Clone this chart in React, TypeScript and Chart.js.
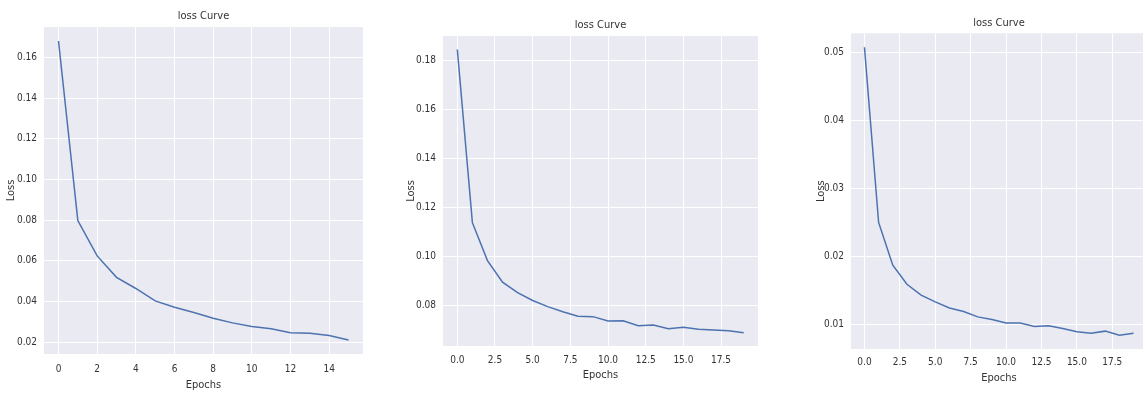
import React, { useEffect, useRef } from "react";
import { Chart, registerables } from "chart.js";

Chart.register(...registerables);

// ---------- data ----------
const epochs1 = [0, 1, 2, 3, 4, 5, 6, 7, 8, 9, 10, 11, 12, 13, 14, 15];
const loss1 = [0.168, 0.0798, 0.0624, 0.0519, 0.0464, 0.0403, 0.0372, 0.0346, 0.0318, 0.0295, 0.0277, 0.0266, 0.0247, 0.0244, 0.0233, 0.0211];
const xTicks1 = [0, 2, 4, 6, 8, 10, 12, 14];
const yTicks1 = [0.02, 0.04, 0.06, 0.08, 0.1, 0.12, 0.14, 0.16];

const epochs2 = [0, 1, 2, 3, 4, 5, 6, 7, 8, 9, 10, 11, 12, 13, 14, 15, 16, 17, 18, 19];
const loss2 = [0.1846, 0.1138, 0.0983, 0.0895, 0.0852, 0.082, 0.0795, 0.0774, 0.0756, 0.0754, 0.0736, 0.0737, 0.0717, 0.072, 0.0705, 0.0711, 0.0702, 0.0699, 0.0696, 0.0688];
const xTicks2 = [0, 2.5, 5, 7.5, 10, 12.5, 15, 17.5];
const yTicks2 = [0.08, 0.1, 0.12, 0.14, 0.16, 0.18];

const epochs3 = [0, 1, 2, 3, 4, 5, 6, 7, 8, 9, 10, 11, 12, 13, 14, 15, 16, 17, 18, 19];
const loss3 = [0.0508, 0.025, 0.0187, 0.0159, 0.0143, 0.0133, 0.0124, 0.0119, 0.0111, 0.0107, 0.0102, 0.0102, 0.0097, 0.0098, 0.0094, 0.0089, 0.0087, 0.009, 0.0084, 0.0087];
const xTicks3 = [0, 2.5, 5, 7.5, 10, 12.5, 15, 17.5];
const yTicks3 = [0.01, 0.02, 0.03, 0.04, 0.05];

const titleText = "loss Curve";
const xTitle = "Epochs";
const yTitle = "Loss";

// ---------- styling ----------
const FONT = "'Liberation Sans Narrow', 'DejaVu Sans Condensed', 'Liberation Sans', sans-serif";
const TEXT = "#333333";
const LINE = "#4C72B0";
const PLOT_BG = "#EAEAF2";

const bgPlugin = {
  id: "plotBg",
  beforeDraw(chart: any) {
    const { ctx, chartArea } = chart;
    if (!chartArea) return;
    ctx.save();
    ctx.fillStyle = PLOT_BG;
    ctx.fillRect(chartArea.left, chartArea.top, chartArea.right - chartArea.left, chartArea.bottom - chartArea.top);
    ctx.restore();
  },
};

type PanelProps = {
  left: number;
  width: number;
  epochs: number[];
  loss: number[];
  xTicks: number[];
  yTicks: number[];
  xMin: number;
  xMax: number;
  yMin: number;
  yMax: number;
  xDecimals: number;
  yAxisWidth: number;
  xAxisHeight: number;
  yTitlePad: number;
  xTitlePadBottom: number;
  xTickPad: number;
  titlePadTop: number;
  titlePadBottom: number;
};

function LossPanel(p: PanelProps) {
  const ref = useRef<HTMLCanvasElement | null>(null);
  useEffect(() => {
    if (!ref.current) return;
    const chart = new Chart(ref.current, {
      type: "line",
      data: {
        datasets: [
          {
            data: p.loss.map((v, i) => ({ x: p.epochs[i], y: v })),
            borderColor: LINE,
            borderWidth: 1.5,
            pointRadius: 0,
            fill: false,
            tension: 0,
          },
        ],
      },
      options: {
        responsive: false,
        animation: false,
        layout: { padding: 0, autoPadding: false },
        plugins: {
          legend: { display: false },
          tooltip: { enabled: false },
          title: {
            display: true,
            text: titleText,
            fullSize: false,
            color: TEXT,
            font: { family: FONT, size: 11, weight: "normal", lineHeight: 1.2 },
            padding: { top: p.titlePadTop, bottom: p.titlePadBottom },
          },
        },
        scales: {
          x: {
            type: "linear",
            min: p.xMin,
            max: p.xMax,
            afterBuildTicks: (scale: any) => {
              scale.ticks = p.xTicks.map((v) => ({ value: v }));
            },
            afterFit: (scale: any) => {
              scale.height = p.xAxisHeight;
            },
            ticks: {
              color: TEXT,
              font: { family: FONT, size: 10, lineHeight: 1.2 },
              padding: p.xTickPad,
              maxRotation: 0,
              autoSkip: false,
              callback: (v: any) => Number(v).toFixed(p.xDecimals),
            },
            grid: { color: "#ffffff", lineWidth: 1, drawTicks: false },
            border: { display: false },
            title: {
              display: true,
              text: xTitle,
              color: TEXT,
              font: { family: FONT, size: 11, lineHeight: 1.2 },
              padding: { top: 0, bottom: p.xTitlePadBottom },
            },
          },
          y: {
            type: "linear",
            min: p.yMin,
            max: p.yMax,
            afterBuildTicks: (scale: any) => {
              scale.ticks = p.yTicks.map((v) => ({ value: v }));
            },
            afterFit: (scale: any) => {
              scale.width = p.yAxisWidth;
            },
            ticks: {
              color: TEXT,
              font: { family: FONT, size: 10, lineHeight: 1.2 },
              padding: 7,
              autoSkip: false,
              callback: (v: any) => Number(v).toFixed(2),
            },
            grid: { color: "#ffffff", lineWidth: 1, drawTicks: false },
            border: { display: false },
            title: {
              display: true,
              text: yTitle,
              color: TEXT,
              font: { family: FONT, size: 11, lineHeight: 1.2 },
              padding: { top: p.yTitlePad, bottom: 0 },
            },
          },
        },
      },
      plugins: [bgPlugin],
    } as any);
    return () => chart.destroy();
  }, []);
  return (
    <canvas
      ref={ref}
      width={p.width}
      height={395}
      style={{ position: "absolute", left: p.left, top: 0, width: p.width, height: 395 }}
    />
  );
}

export default function App() {
  return (
    <div
      style={{
        position: "absolute",
        left: 0,
        top: 0,
        width: 1143,
        height: 395,
        overflow: "hidden",
        background: "#ffffff",
      }}
    >
      <LossPanel
        left={0}
        width={363}
        epochs={epochs1}
        loss={loss1}
        xTicks={xTicks1}
        yTicks={yTicks1}
        xMin={-0.75}
        xMax={15.75}
        yMin={0.0142}
        yMax={0.1749}
        xDecimals={0}
        yAxisWidth={44}
        xAxisHeight={41}
        yTitlePad={4.4}
        xTitlePadBottom={3.4}
        xTickPad={9}
        titlePadTop={9.4}
        titlePadBottom={4.4}
      />
      <LossPanel
        left={380}
        width={378}
        epochs={epochs2}
        loss={loss2}
        xTicks={xTicks2}
        yTicks={yTicks2}
        xMin={-0.95}
        xMax={19.95}
        yMin={0.0634}
        yMax={0.1901}
        xDecimals={1}
        yAxisWidth={63}
        xAxisHeight={49}
        yTitlePad={24.4}
        xTitlePadBottom={13.4}
        xTickPad={8}
        titlePadTop={18.7}
        titlePadBottom={4.1}
      />
      <LossPanel
        left={770}
        width={377}
        epochs={epochs3}
        loss={loss3}
        xTicks={xTicks3}
        yTicks={yTicks3}
        xMin={-0.95}
        xMax={19.95}
        yMin={0.00637}
        yMax={0.05285}
        xDecimals={1}
        yAxisWidth={81}
        xAxisHeight={46}
        yTitlePad={44.4}
        xTitlePadBottom={10.4}
        xTickPad={7.7}
        titlePadTop={16.1}
        titlePadBottom={4}
      />
    </div>
  );
}
